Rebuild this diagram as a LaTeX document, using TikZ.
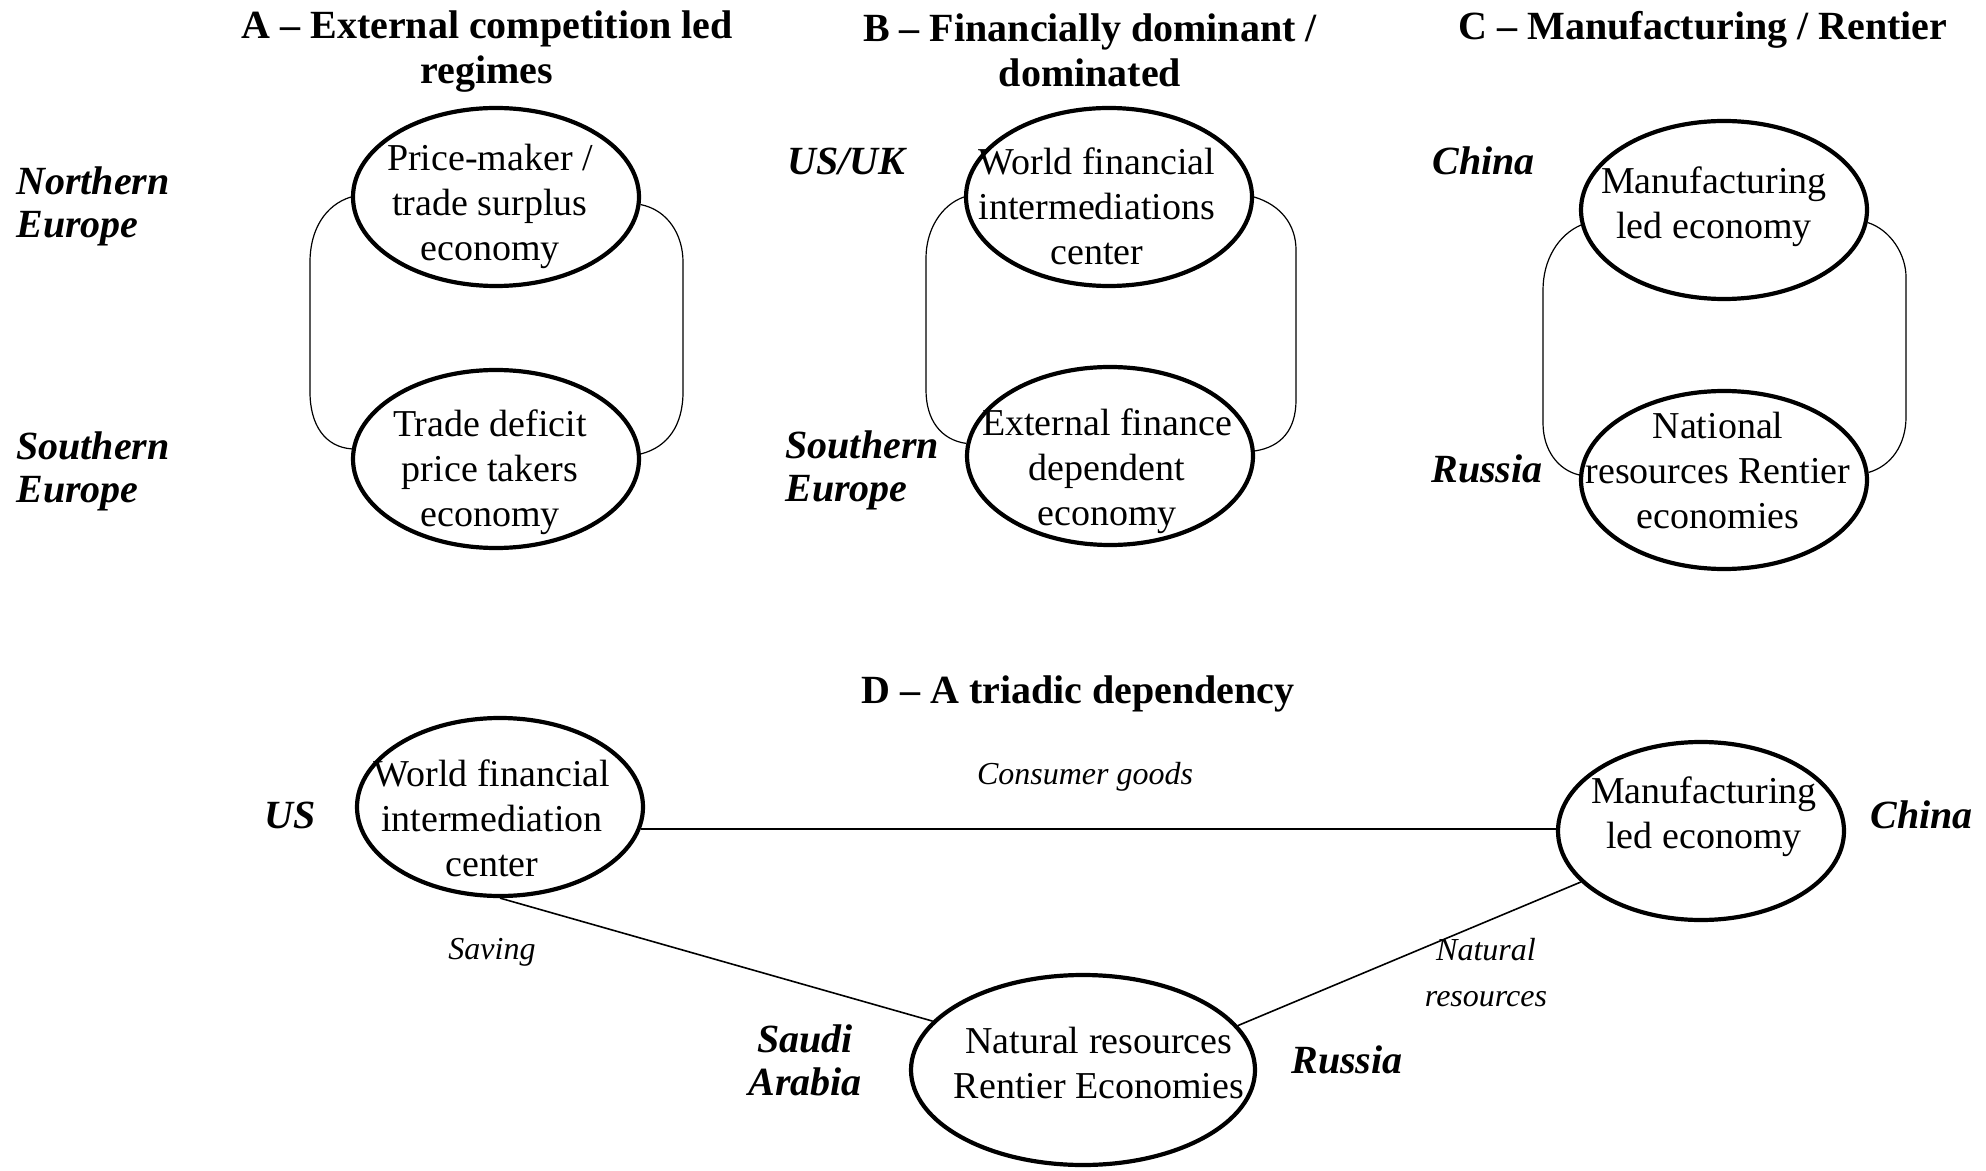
\documentclass[tikz,border=0pt]{standalone}
\usepackage{fontspec}
\setmainfont{Liberation Serif}
\usetikzlibrary{shapes.geometric,calc}
\begin{document}
\begin{tikzpicture}[x=0.5pt,y=-0.5pt,
  oval/.style={ellipse,draw,line width=2.1pt,minimum width=143pt,minimum height=89pt,inner sep=0pt},
  bigoval/.style={oval,minimum width=172pt,minimum height=95pt},
  celltext/.style={align=center,inner sep=0pt,font=\fontsize{19}{22.5}\selectfont},
  ttl/.style={align=center,inner sep=0pt,font=\fontsize{20}{22.5}\selectfont\bfseries},
  ctry/.style={align=left,inner sep=0pt,anchor=west,font=\fontsize{20}{21.5}\selectfont\bfseries\itshape},
  flowlabel/.style={inner sep=0pt,align=center,font=\fontsize{16}{23}\selectfont\itshape},
  arcline/.style={line width=0.6pt},
  flowline/.style={line width=0.8pt}]

\path[use as bounding box,fill=white] (0,0) rectangle (1986,1171);

% titles
\node[ttl] (tA) at (487,52) {A -- External competition led\\regimes};
\node[ttl] (tB) at (1090,50) {B -- Financially dominant /\\dominated};
\node[ttl] (tC) at (1703,30) {C -- Manufacturing / Rentier};
\node[ttl] (tD) at (1078,694) {D -- A triadic dependency};

% panel A
\node[oval] (a1) at (496,197) {};
\node[oval] (a2) at (496,459) {};
\node[celltext] (a1t) at (490,206) {Price-maker /\\trade surplus\\economy};
\node[celltext] (a2t) at (490,472) {Trade deficit\\price takers\\economy};
\node[ctry] (ne) at (16,206) {Northern\\Europe};
\node[ctry] (se) at (16,471) {Southern\\Europe};
\draw[arcline] (a1.west) .. controls (325,205) and (310,230) .. (310,262) -- (310,392) .. controls (310,425) and (325,447) .. (a2.176);
\draw[arcline] (a1.357.6) .. controls (668,210) and (683,235) .. (683,262) -- (683,392) .. controls (683,425) and (668,447) .. (a2.2.4);

% panel B
\node[oval] (b1) at (1109,197) {};
\node[oval] (b2) at (1110,456) {};
\node[celltext] (b1t) at (1097,206) {World financial\\intermediations\\center};
\node[celltext] (b2t) at (1107,471) {External finance\\dependent\\economy};
\node[ctry] (usuk) at (787,161) {US/UK};
\node[ctry] (se2) at (785,470) {Southern\\Europe};
\draw[arcline] (b1.west) .. controls (941,205) and (926,230) .. (926,258) -- (926,390) .. controls (926,420) and (941,440) .. (b2.175);
\draw[arcline] (b1.east) .. controls (1281,205) and (1296,225) .. (1296,250) -- (1296,400) .. controls (1296,430) and (1281,447) .. (b2.2.8);

% panel C
\node[oval] (c1) at (1724,210) {};
\node[oval] (c2) at (1724,480) {};
\node[celltext] (c1t) at (1714,207) {Manufacturing\\led economy};
\node[celltext] (c2t) at (1718,471) {National\\resources Rentier\\economies};
\node[ctry] (cn) at (1432,161) {China};
\node[ctry] (ru) at (1431,469) {Russia};
\draw[arcline] (c1.186.7) .. controls (1558,235) and (1543,260) .. (1543,290) -- (1543,423) .. controls (1543,450) and (1558,470) .. (c2.178);
\draw[arcline] (c1.355.3) .. controls (1891,230) and (1906,255) .. (1906,277) -- (1906,417) .. controls (1906,445) and (1891,466) .. (c2.3.2);

% panel D
\node[oval] (d1) at (500,807) {};
\node[oval] (d2) at (1701,831) {};
\node[bigoval] (d3) at (1083,1070) {};
\node[celltext] (d1t) at (492,818) {World financial\\intermediation\\center};
\node[celltext] (d2t) at (1704,817) {Manufacturing\\led economy};
\node[celltext] (d3t) at (1099,1063) {Natural resources\\Rentier Economies};
\node[ctry,anchor=center] (us) at (290,815) {US};
\node[ctry] (cn2) at (1870,815) {China};
\node[ctry,anchor=center,align=center] (sa) at (805,1060) {Saudi\\Arabia};
\node[ctry] (ru2) at (1291,1060) {Russia};
\draw[flowline] (d1.351.4) -- (d1.351.4 -| d2.west);
\draw[flowline] (d1.south) -- (d3.162);
\draw[flowline] (d3.16) -- (d2.203);
\node[flowlabel] (cg) at (1085,777) {Consumer goods};
\node[flowlabel] (sv) at (492,952) {Saving};
\node[flowlabel] (nr) at (1486,973) {Natural\\resources};
\end{tikzpicture}
\end{document}
